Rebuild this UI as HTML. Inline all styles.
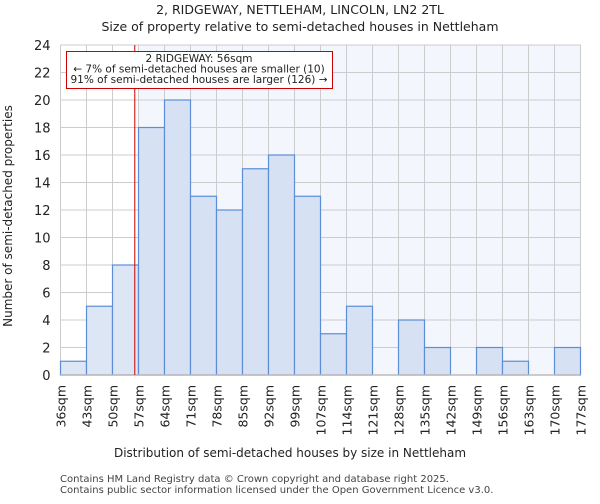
<!DOCTYPE html>
<html><head><meta charset="utf-8"><style>
body{margin:0;background:#fff;font-family:"DejaVu Sans","Liberation Sans",sans-serif}
</style></head><body>
<svg width="600" height="500" xmlns="http://www.w3.org/2000/svg" font-family="DejaVu Sans, Liberation Sans, sans-serif">
<text x="300" y="14" text-anchor="middle" font-size="12.5" fill="#222">2, RIDGEWAY, NETTLEHAM, LINCOLN, LN2 2TL</text>
<text x="300" y="31" text-anchor="middle" font-size="12.5" fill="#222">Size of property relative to semi-detached houses in Nettleham</text>
<g id="plot"></g>
<text x="290" y="457" text-anchor="middle" font-size="12" fill="#222">Distribution of semi-detached houses by size in Nettleham</text>
<text transform="translate(12,216) rotate(-90)" text-anchor="middle" font-size="12" fill="#222">Number of semi-detached properties</text>
<text x="60" y="482" font-size="10" fill="#444">Contains HM Land Registry data © Crown copyright and database right 2025.</text>
<text x="60" y="493" font-size="10" fill="#444">Contains public sector information licensed under the Open Government Licence v3.0.</text>
</svg>
<script>
const binLabels=["36sqm","43sqm","50sqm","57sqm","64sqm","71sqm","78sqm","85sqm","92sqm","99sqm","107sqm","114sqm","121sqm","128sqm","135sqm","142sqm","149sqm","156sqm","163sqm","170sqm","177sqm"];
const counts=[1,5,8,18,20,13,12,15,16,13,3,5,0,4,2,0,2,1,0,2];
const yTicks=[0,2,4,6,8,10,12,14,16,18,20,22,24];
const propertyValue=56;
const binStart=36, binStep=7;
const NS="http://www.w3.org/2000/svg";
const g=document.getElementById('plot');
const L=60.5,R=580.5,T=45,B=375,yMax=24;
const n=counts.length;
const xB=i=>L+(R-L)*i/n;
const yS=v=>B-(B-T)*v/yMax;
const xV=v=>L+(R-L)*(v-binStart)/(binStep*n);
function mk(t,a){const e=document.createElementNS(NS,t);for(const k in a)e.setAttribute(k,a[k]);g.appendChild(e);return e;}
const hx=xB(3);
let e=mk('rect',{x:L,y:T,width:hx-L,height:B-T,fill:'#ffffff'});


e=mk('rect',{x:hx,y:T,width:R-hx,height:B-T,fill:'#f3f6fd'});


yTicks.forEach(v=>{
 e=mk('line',{x1:L,x2:R,y1:yS(v),y2:yS(v),stroke:'#cccccc','stroke-width':1});
 
 
 e=mk('text',{x:L-10,y:yS(v)+5,'text-anchor':'end','font-size':13,fill:'#222'});
 e.textContent=v;
 
 
});
binLabels.forEach((lab,i)=>{
 e=mk('line',{x1:xB(i),x2:xB(i),y1:T,y2:B,stroke:'#cccccc','stroke-width':1});
 
 
 e=mk('text',{transform:`translate(${xB(i)+5},385) rotate(-90)`,'text-anchor':'end','font-size':12.5,fill:'#222'});
 e.textContent=lab;
 
 
});
counts.forEach((c,i)=>{
 if(c<=0)return;
 e=mk('rect',{x:xB(i),y:yS(c),width:xB(i+1)-xB(i),height:B-yS(c),fill:i<3?'#dde6f4':'#d6e1f3',stroke:'#5b8ed6','stroke-width':1.2});
 
 
});
e=mk('line',{x1:L,x2:R,y1:B,y2:B,stroke:'#bbbbbb','stroke-width':1.5});


const px=xV(propertyValue);
e=mk('line',{x1:px,x2:px,y1:T,y2:B,stroke:'#cc0000','stroke-width':1});


e=mk('rect',{x:66.5,y:51.5,width:266,height:37,fill:'#fff',stroke:'#cc0000','stroke-width':1});


["2 RIDGEWAY: 56sqm","← 7% of semi-detached houses are smaller (10)","91% of semi-detached houses are larger (126) →"].forEach((t,i)=>{
 e=mk('text',{x:199,y:62+i*10.5,'text-anchor':'middle','font-size':10.5,fill:'#222'});
 e.textContent=t;
 
 
});
</script>
</body></html>
